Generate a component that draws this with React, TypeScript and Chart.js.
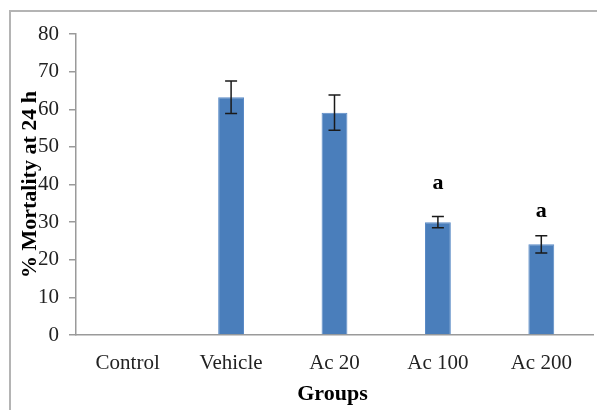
import React, { useEffect, useRef } from "react";
import { Chart, registerables } from "chart.js";

Chart.register(...registerables);

const categories = ["Control", "Vehicle", "Ac 20", "Ac 100", "Ac 200"];
const mortality = [0, 63.2, 59.1, 30.0, 24.1];
const sem = [null, 4.3, 4.7, 1.5, 2.3];
const letters = ["", "", "", "a", "a"];
const letterAt = [null, null, null, 40.3, 32.9];
const yTitle = "% Mortality at 24 h";
const xTitle = "Groups";

const FONT = "'Liberation Serif', 'Times New Roman', serif";

const extrasPlugin = {
  id: "extras",
  beforeDraw(chart: any) {
    const ctx = chart.ctx;
    ctx.save();
    ctx.fillStyle = "#ffffff";
    ctx.fillRect(0, 0, chart.width, chart.height);
    ctx.strokeStyle = "#b4b4b4";
    ctx.lineWidth = 2;
    ctx.beginPath();
    ctx.moveTo(10, chart.height);
    ctx.lineTo(10, 11);
    ctx.lineTo(chart.width, 11);
    ctx.stroke();
    ctx.restore();
  },
  afterDraw(chart: any) {
    const ctx = chart.ctx;
    const x = chart.scales.x;
    const y = chart.scales.y;
    const area = chart.chartArea;
    ctx.save();
    // error bars
    ctx.strokeStyle = "#1a1a1a";
    ctx.lineWidth = 1.5;
    mortality.forEach((v, i) => {
      const e = sem[i];
      if (e == null) return;
      const cx = x.getPixelForValue(i);
      const top = y.getPixelForValue(v + e);
      const bot = y.getPixelForValue(v - e);
      ctx.beginPath();
      ctx.moveTo(cx, top);
      ctx.lineTo(cx, bot);
      ctx.moveTo(cx - 6, top);
      ctx.lineTo(cx + 6, top);
      ctx.moveTo(cx - 6, bot);
      ctx.lineTo(cx + 6, bot);
      ctx.stroke();
    });
    // significance letters
    ctx.fillStyle = "#000";
    ctx.font = `bold 22px ${FONT}`;
    ctx.textAlign = "center";
    ctx.textBaseline = "middle";
    letters.forEach((l, i) => {
      const at = letterAt[i];
      if (!l || at == null) return;
      ctx.fillText(l, x.getPixelForValue(i), y.getPixelForValue(at));
    });
    // axis titles
    ctx.fillStyle = "#000";
    ctx.font = `bold 22px ${FONT}`;
    ctx.textAlign = "center";
    ctx.textBaseline = "middle";
    ctx.fillText(xTitle, (area.left + area.right) / 2 - 2, area.bottom + 59);
    ctx.save();
    ctx.translate(area.left - 46, (area.top + area.bottom) / 2);
    ctx.rotate(-Math.PI / 2);
    ctx.fillText(yTitle, 0, 0);
    ctx.restore();
    ctx.restore();
  },
};

export default function App() {
  const ref = useRef<HTMLCanvasElement | null>(null);
  useEffect(() => {
    if (!ref.current) return;
    const chart = new Chart(ref.current, {
      type: "bar",
      data: {
        labels: categories,
        datasets: [
          {
            data: mortality,
            backgroundColor: "#4A7EBB",
            borderColor: "#5b8bc6",
            borderWidth: 1,
            barPercentage: 0.25,
            categoryPercentage: 1,
          },
        ],
      },
      options: {
        responsive: false,
        animation: false,
        layout: { padding: { left: 29, right: 4, top: 34, bottom: 15 } },
        plugins: {
          legend: { display: false },
          tooltip: { enabled: false },
        },
        scales: {
          x: {
            grid: { display: false },
            border: { display: true, color: "#9a9a9a", width: 1.5 },
            afterFit: (s: any) => {
              s.height = 60;
            },
            ticks: {
              padding: 8,
              color: "#222",
              font: { family: FONT, size: 21 },
              maxRotation: 0,
              autoSkip: false,
            },
          },
          y: {
            min: 0,
            max: 80,
            afterFit: (s: any) => {
              s.width = 47;
            },
            grid: {
              drawOnChartArea: false,
              drawTicks: true,
              tickLength: 7,
              color: "#9a9a9a",
              lineWidth: 1.5,
            },
            border: { display: true, color: "#9a9a9a", width: 1.5 },
            ticks: {
              stepSize: 10,
              padding: 10,
              color: "#222",
              font: { family: FONT, size: 21 },
            },
          },
        },
      },
      plugins: [extrasPlugin],
    });
    return () => chart.destroy();
  }, []);
  return (
    <div style={{ position: "absolute", left: 0, top: 0, width: 597, height: 410 }}>
      <canvas ref={ref} width={597} height={410} />
    </div>
  );
}
